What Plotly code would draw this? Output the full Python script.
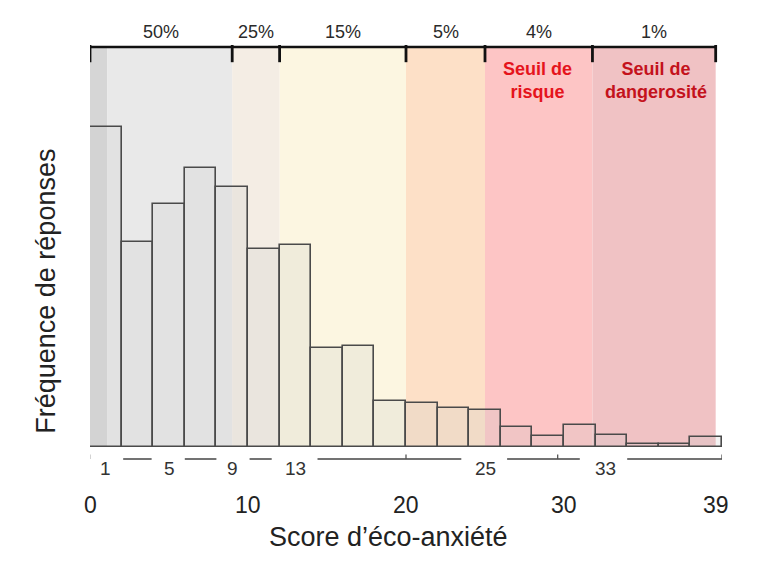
import plotly.graph_objects as go

# ---- data ----
bin_centers = [1, 3, 5, 7, 9, 11, 13, 15, 17, 19, 21, 23, 25, 27, 29, 31, 33, 35, 37, 39]
frequencies = [320, 205, 243, 279, 260, 198, 202, 99, 101, 46, 44, 39, 37, 20, 11, 22, 12, 3, 3, 10]

band_edges = [0, 1.1, 9, 12, 20, 25, 31.8, 39.6]
band_colors = ["#d6d6d6", "#e9e9e9", "#f4ede4", "#fcf6e1", "#fde0c7", "#fdc5c5", "#f0c2c4"]

bracket_edges = [0, 9, 12, 20, 25, 31.8, 39.6]
pct_labels = ["50%", "25%", "15%", "5%", "4%", "1%"]

sub_labels = ["1", "5", "9", "13", "25", "33"]
sub_label_x = [1, 5, 9, 13, 25, 32.6]
sub_segments = [(2.1, 3.9), (6.0, 8.0), (10.1, 11.5), (14.4, 23.5), (26.4, 31.0), (34.0, 40.0)]
sub_ticks = [0, 20, 29.6, 40]

main_tick_x = [0, 10, 20, 30, 39.6]
main_tick_text = ["0", "10", "20", "30", "39"]

FONT = "Liberation Sans, Arial, sans-serif"

fig = go.Figure()
fig.add_trace(go.Bar(
    x=bin_centers, y=frequencies, width=2,
    marker=dict(color="rgba(200,200,200,0.22)", line=dict(color="#4a4a4a", width=1.6)),
    hoverinfo="skip",
))

shapes = []
for i, c in enumerate(band_colors):
    shapes.append(dict(type="rect", xref="x", yref="paper", x0=band_edges[i], x1=band_edges[i + 1],
                       y0=0, y1=1, fillcolor=c, line=dict(width=0), layer="below"))

# top bracket
shapes.append(dict(type="line", xref="x", yref="paper", x0=bracket_edges[0], x1=bracket_edges[-1],
                   y0=1, y1=1, line=dict(color="#111", width=2.5)))
for e in bracket_edges:
    shapes.append(dict(type="line", xref="x", yref="paper", x0=e, x1=e, y0=1.005, y1=0.962,
                       line=dict(color="#111", width=2.8)))

# bottom segments
ys = -0.03
for a, b in sub_segments:
    shapes.append(dict(type="line", xref="x", yref="paper", x0=a, x1=b, y0=ys, y1=ys,
                       line=dict(color="#444", width=1.5)))
for t in sub_ticks:
    shapes.append(dict(type="line", xref="x", yref="paper", x0=t, x1=t, y0=ys, y1=ys + 0.011,
                       line=dict(color="#555" if t else "#bbb", width=1.3)))

annotations = []
for i, lab in enumerate(pct_labels):
    xc = (bracket_edges[i] + bracket_edges[i + 1]) / 2
    annotations.append(dict(x=xc, y=1.0375, xref="x", yref="paper", text=lab, showarrow=False,
                            font=dict(family=FONT, size=18, color="#2a2a2a"), yanchor="middle"))

annotations.append(dict(x=28.3, y=0.915, xref="x", yref="paper", text="<b>Seuil de<br>risque</b>",
                        showarrow=False, font=dict(family=FONT, size=18, color="#e5141c"),
                        yanchor="middle"))
annotations.append(dict(x=35.8, y=0.915, xref="x", yref="paper", text="<b>Seuil de<br>dangerosité</b>",
                        showarrow=False, font=dict(family=FONT, size=18, color="#c4121c"),
                        yanchor="middle"))

for lab, xv in zip(sub_labels, sub_label_x):
    annotations.append(dict(x=xv, y=-0.0525, xref="x", yref="paper", text=lab, showarrow=False,
                            font=dict(family=FONT, size=19, color="#333"), yanchor="middle"))

for lab, xv in zip(main_tick_text, main_tick_x):
    annotations.append(dict(x=xv, y=-0.145, xref="x", yref="paper", text=lab, showarrow=False,
                            font=dict(family=FONT, size=23, color="#222"), yanchor="middle"))

annotations.append(dict(x=0.472, y=-0.225, xref="paper", yref="paper", text="Score d’éco-anxiété",
                        showarrow=False, font=dict(family=FONT, size=27, color="#222"),
                        yanchor="middle"))
annotations.append(dict(x=-0.07, y=0.39, xref="paper", yref="paper", text="Fréquence de réponses",
                        showarrow=False, textangle=-90, font=dict(family=FONT, size=27, color="#222"),
                        xanchor="center", yanchor="middle"))

fig.update_layout(
    width=768, height=573,
    margin=dict(l=90, r=46, t=47, b=126),
    paper_bgcolor="white", plot_bgcolor="white",
    showlegend=False, bargap=0,
    xaxis=dict(range=[0, 40], showticklabels=False, showgrid=False, zeroline=False, ticks="",
               showline=False, fixedrange=True),
    yaxis=dict(range=[0, 400], showticklabels=False, showgrid=False, zeroline=False, ticks="",
               showline=False, fixedrange=True),
    shapes=shapes, annotations=annotations,
)

fig.write_html("out.html", config={"displayModeBar": False})
